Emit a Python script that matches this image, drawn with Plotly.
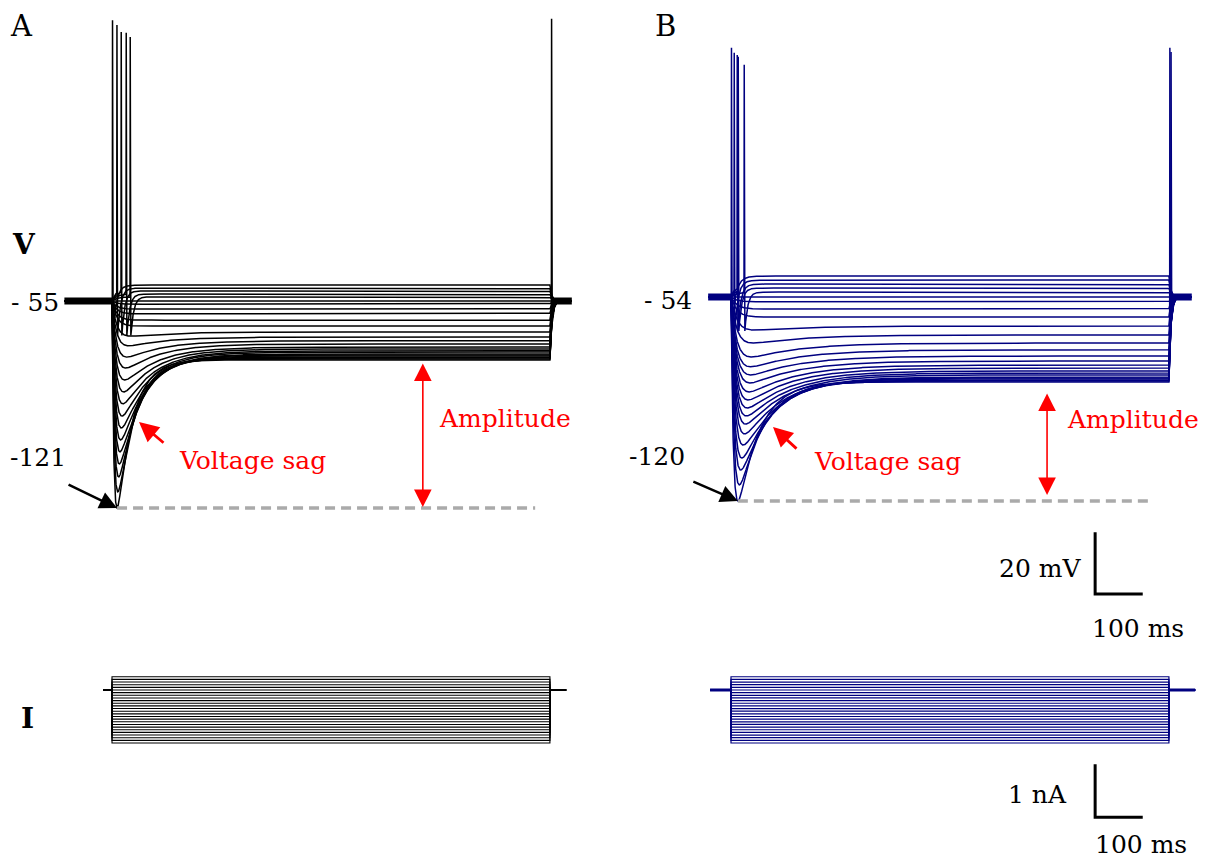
import numpy as np
import plotly.graph_objects as go

W, H = 1214, 861
STEP_MS = 920.0            # duration of the current step
PX_PER_MS = 0.476          # horizontal scale (pixels per ms), both cells

# Injected current steps (nA), most depolarising sweep first
I_STEPS = [0.25, 0.20, 0.15, 0.10, 0.05, 0.00, -0.05, -0.10, -0.15, -0.20,
           -0.25, -0.30, -0.35, -0.40, -0.45, -0.50, -0.55, -0.60, -0.65,
           -0.70, -0.75, -0.80, -0.85, -0.90, -0.95, -1.00]

# ---- Cell A (black) -------------------------------------------------------
A_REST = -55.0
A_STEADY = [-49.9, -50.9, -51.8, -52.8, -53.7, -55.0, -56.0, -57.6, -59.1,
            -61.1, -63.0, -64.9, -66.5, -67.7, -68.7, -69.7, -70.3, -70.9,
            -71.3, -71.9, -72.2, -72.5, -72.9, -73.2, -73.5, -73.8]
A_SAG_PEAK = [None, None, None, None, None, None, None, None, None, None,
              None, -66.2, -69.3, -72.9, -76.4, -80.2, -84.0, -87.8, -91.7,
              -95.5, -99.3, -103.1, -107.0, -111.1, -115.9, -121.0]
A_ONSET_SPIKE_SWEEP = [0, 1, 2, 3, 4]
A_ONSET_SPIKE_MS = [0.6, 9.9, 18.9, 29.4, 37.8]
A_ONSET_SPIKE_MV = [34.5, 33.0, 30.8, 30.5, 29.2]
A_REBOUND_SWEEP = [25]
A_REBOUND_MS = [3.0]           # after the end of the step
A_REBOUND_MV = [35.0]
A_AHP = -66.0

# ---- Cell B (navy) --------------------------------------------------------
B_REST = -54.0
B_STEADY = [-47.2, -48.5, -49.8, -51.1, -52.4, -54.0, -55.6, -57.9, -60.5,
            -63.4, -66.3, -68.9, -71.1, -73.1, -74.7, -76.0, -77.0, -77.9,
            -78.6, -79.2, -79.9, -80.2, -80.5, -80.9, -81.2, -81.5]
B_SAG_PEAK = [None, None, None, None, None, None, None, None, None, -64.7,
              -68.9, -73.4, -76.6, -79.2, -81.8, -84.7, -87.3, -89.9, -92.5,
              -95.1, -98.3, -101.9, -106.1, -110.0, -114.8, -120.0]
B_ONSET_SPIKE_SWEEP = [0, 1, 2, 3, 4]
B_ONSET_SPIKE_MS = [0.5, 6.3, 12.6, 14.7, 27.3]
B_ONSET_SPIKE_MV = [26.6, 25.0, 24.3, 23.7, 21.1]
B_REBOUND_SWEEP = [25, 24]
B_REBOUND_MS = [1.5, 4.0]
B_REBOUND_MV = [26.6, 25.3]
B_AHP = -65.0

A_COLOR = "#000000"
B_COLOR = "#000080"
RED = "#ff0000"
FONT = "DejaVu Serif"


def time_grid(t0, t1, extra):
    grid = np.concatenate([
        np.arange(t0, 0.0, 2.0),
        np.arange(0.0, 90.0, 0.2),
        np.arange(90.0, STEP_MS - 5.0, 2.0),
        np.arange(STEP_MS - 5.0, STEP_MS + 30.0, 0.2),
        np.arange(STEP_MS + 30.0, t1, 2.0),
        [t1],
    ])
    return np.unique(np.concatenate([grid, extra]))


def sweep_trace(t, v_rest, v_ss, v_pk, tau_a, tau_b, tau_off=4.0):
    v = np.full_like(t, v_rest)
    on = (t >= 0) & (t <= STEP_MS)
    ts = t[on]
    base = v_ss + (v_rest - v_ss) * np.exp(-ts / tau_a)
    if v_pk is not None:
        hump = np.exp(-ts / tau_b) - np.exp(-ts / tau_a)
        lo, hi = 0.0, 2000.0
        for _ in range(60):
            mid = 0.5 * (lo + hi)
            if (base - mid * hump).min() > v_pk:
                lo = mid
            else:
                hi = mid
        base = base - 0.5 * (lo + hi) * hump
    v[on] = base
    v_end = base[-1]
    off = t > STEP_MS
    v[off] = v_rest + (v_end - v_rest) * np.exp(-(t[off] - STEP_MS) / tau_off)
    return v


def add_spike(t, v, t_spk, v_peak, v_ahp, rise=0.5, fall=1.3, tau_rec=6.0):
    base = v.copy()
    b0 = np.interp(t_spk, t, base)
    t_pk, t_ahp = t_spk + rise, t_spk + rise + fall
    m1 = (t >= t_spk) & (t < t_pk)
    v[m1] = b0 + (v_peak - b0) * (t[m1] - t_spk) / rise
    m2 = (t >= t_pk) & (t < t_ahp)
    v[m2] = v_peak + (v_ahp - v_peak) * (t[m2] - t_pk) / fall
    m3 = t >= t_ahp
    b_ahp = np.interp(t_ahp, t, base)
    v[m3] = base[m3] + (v_ahp - b_ahp) * np.exp(-(t[m3] - t_ahp) / tau_rec)
    return v


def cell_traces(rest, steady, sag_peak, on_sw, on_ms, on_mv, rb_sw, rb_ms,
                rb_mv, ahp, tau_a_fast, tau_b_fast, t0, t1):
    knots = []
    for s in list(on_ms) + [STEP_MS + x for x in rb_ms]:
        knots += [s, s + 0.5, s + 1.8]
    t = time_grid(t0, t1, np.array(knots))
    sags = [(ss - pk) for ss, pk in zip(steady, sag_peak) if pk is not None]
    max_sag = max(sags)
    out = []
    for k, (ss, pk) in enumerate(zip(steady, sag_peak)):
        if pk is None:
            ta, tb = tau_a_fast * 2.5, tau_b_fast * 2.5
        else:
            frac = (ss - pk) / max_sag
            ta = tau_a_fast * (1 + 1.5 * (1 - frac))
            tb = tau_b_fast * (1 + 1.5 * (1 - frac))
        v = sweep_trace(t, rest, ss, pk, ta, tb)
        for sw, ms, mv in zip(on_sw, on_ms, on_mv):
            if sw == k:
                v = add_spike(t, v, ms, mv, ahp)
        for sw, ms, mv in zip(rb_sw, rb_ms, rb_mv):
            if sw == k:
                v = add_spike(t, v, STEP_MS + ms, mv, ahp + 4, tau_rec=4.0)
        out.append(v)
    return t, out


tA, vA = cell_traces(A_REST, A_STEADY, A_SAG_PEAK, A_ONSET_SPIKE_SWEEP,
                     A_ONSET_SPIKE_MS, A_ONSET_SPIKE_MV, A_REBOUND_SWEEP,
                     A_REBOUND_MS, A_REBOUND_MV, A_AHP, 4.0, 32.0,
                     -100.0, STEP_MS + 46.0)
tB, vB = cell_traces(B_REST, B_STEADY, B_SAG_PEAK, B_ONSET_SPIKE_SWEEP,
                     B_ONSET_SPIKE_MS, B_ONSET_SPIKE_MV, B_REBOUND_SWEEP,
                     B_REBOUND_MS, B_REBOUND_MV, B_AHP, 5.0, 45.0,
                     -48.0, STEP_MS + 48.0)

fig = go.Figure()


def line(x, y, color, width, xa, ya, dash=None):
    fig.add_trace(go.Scatter(x=x, y=y, mode="lines", xaxis=xa, yaxis=ya,
                             line=dict(color=color, width=width, dash=dash),
                             hoverinfo="skip", showlegend=False))


# holding-potential bands (noisy baseline before / after the step)
line([tA[0], 0], [A_REST, A_REST], A_COLOR, 7, "x", "y")
line([STEP_MS + 4, tA[-1]], [A_REST, A_REST], A_COLOR, 7, "x", "y")
line([tB[0], 0], [B_REST, B_REST], B_COLOR, 7, "x2", "y2")
line([STEP_MS + 4, tB[-1]], [B_REST, B_REST], B_COLOR, 7, "x2", "y2")

for v in vA:
    line(tA, v, A_COLOR, 1.5, "x", "y")
for v in vB:
    line(tB, v, B_COLOR, 1.5, "x2", "y2")

# current steps
for i in I_STEPS:
    line([-19, 0, 0, STEP_MS, STEP_MS, STEP_MS + 34], [0, 0, i, i, 0, 0],
         A_COLOR, 1.1, "x", "y3")
line([-44, 0], [0, 0], B_COLOR, 3, "x2", "y3")
line([STEP_MS, STEP_MS + 55], [0, 0], B_COLOR, 3, "x2", "y3")
for i in I_STEPS:
    line([-44, 0, 0, STEP_MS, STEP_MS, STEP_MS + 55], [0, 0, i, i, 0, 0],
         B_COLOR, 1.2, "x2", "y3")

# time of the deepest sag trough in each cell
on_A = (tA > 0) & (tA < 200)
tpA = tA[on_A][np.argmin(vA[-1][on_A])]
on_B = (tB > 0) & (tB < 200)
tpB = tB[on_B][np.argmin(vB[-1][on_B])]

# dashed reference lines at the sag peak
line([tpA, 889], [A_SAG_PEAK[-1]] * 2, "#aaaaaa", 3.5, "x", "y", dash="10px,6px")
line([tpB, 884], [B_SAG_PEAK[-1]] * 2, "#aaaaaa", 3.5, "x2", "y2", dash="10px,6px")


def axis_range(origin_px, scale, size, origin_val=0.0, invert=False):
    if invert:
        return [origin_val - (size - origin_px) / scale, origin_val + origin_px / scale]
    return [origin_val - origin_px / scale, origin_val + (size - origin_px) / scale]


ax_common = dict(visible=False, showgrid=False, zeroline=False, domain=[0, 1])
fig.update_layout(
    width=W, height=H, margin=dict(l=0, r=0, t=0, b=0),
    paper_bgcolor="white", plot_bgcolor="rgba(0,0,0,0)", showlegend=False,
    xaxis=dict(range=axis_range(112, PX_PER_MS, W), anchor="y", **ax_common),
    yaxis=dict(range=axis_range(301, 3.136, H, A_REST, invert=True), anchor="x", **ax_common),
    xaxis2=dict(range=axis_range(731, PX_PER_MS, W), anchor="y2", **ax_common),
    yaxis2=dict(range=axis_range(297, 3.0909, H, B_REST, invert=True), anchor="x2", **ax_common),
    yaxis3=dict(range=axis_range(690, 53.0, H, 0.0, invert=True), anchor="x", **ax_common),
)

# scale bars (drawn in cell B's units)
SB_T0 = 765.0
fig.add_shape(type="path", xref="x2", yref="y2",
              path=f"M {SB_T0},-130.1 L {SB_T0},-150.1 L {SB_T0 + 100},-150.1",
              line=dict(color="black", width=3))
fig.add_shape(type="path", xref="x2", yref="y3",
              path=f"M {SB_T0},-1.4 L {SB_T0},-2.4 L {SB_T0 + 100},-2.4",
              line=dict(color="black", width=3))


def P(px, py):
    return px / W, 1 - py / H


def label(text, px, py, size=25, color="black"):
    x, y = P(px, py)
    fig.add_annotation(text=text, x=x, y=y, xref="paper", yref="paper",
                       showarrow=False, xanchor="center", yanchor="middle",
                       font=dict(family=FONT, size=size, color=color))


label("A", 21, 26, 29)
label("B", 666, 26, 29)
label("<b>V</b>", 24, 244, 28)
label("<b>I</b>", 27, 718, 28)
label("- 55", 35, 302)
label("-121", 38, 458)
label("- 54", 668, 300)
label("-120", 657, 456)
label("Voltage sag", 252, 460, color=RED)
label("Voltage sag", 887, 461, color=RED)
label("Amplitude", 505, 418, color=RED)
label("Amplitude", 1133, 419, color=RED)
label("20 mV", 1040, 568)
label("100 ms", 1138, 628)
label("1 nA", 1037, 794)
label("100 ms", 1141, 844)

# arrows to the sag trough
fig.add_annotation(x=tpA, y=A_SAG_PEAK[-1], xref="x", yref="y", ax=-50, ay=-24,
                   text="", showarrow=True, arrowhead=2, arrowsize=1.4,
                   arrowwidth=2.5, arrowcolor="black")
fig.add_annotation(x=tpB, y=B_SAG_PEAK[-1], xref="x2", yref="y2", ax=-46, ay=-20,
                   text="", showarrow=True, arrowhead=2, arrowsize=1.4,
                   arrowwidth=2.5, arrowcolor="black")

# red arrows pointing at the sag
for hx, hy, dx, dy in [(139, 422, 26, 22), (773, 427, 25, 23)]:
    x, y = P(hx, hy)
    fig.add_annotation(x=x, y=y, xref="paper", yref="paper", ax=dx, ay=dy,
                       text="", showarrow=True, arrowhead=2, arrowsize=1.4,
                       arrowwidth=2.8, arrowcolor=RED)

# amplitude: steady state to sag peak of the largest step
fig.add_annotation(x=653, y=A_SAG_PEAK[-1], xref="x", yref="y",
                   ax=653, ay=A_STEADY[-1], axref="x", ayref="y",
                   text="", showarrow=True, arrowhead=2, startarrowhead=2,
                   arrowside="end+start", arrowsize=2.2, startarrowsize=2.2,
                   arrowwidth=1.6, arrowcolor=RED, standoff=1, startstandoff=2)
fig.add_annotation(x=664, y=B_SAG_PEAK[-1], xref="x2", yref="y2",
                   ax=664, ay=B_STEADY[-1], axref="x2", ayref="y2",
                   text="", showarrow=True, arrowhead=2, startarrowhead=2,
                   arrowside="end+start", arrowsize=2.2, startarrowsize=2.2,
                   arrowwidth=1.6, arrowcolor=RED, standoff=6, startstandoff=10)

fig.write_html("out.html")
